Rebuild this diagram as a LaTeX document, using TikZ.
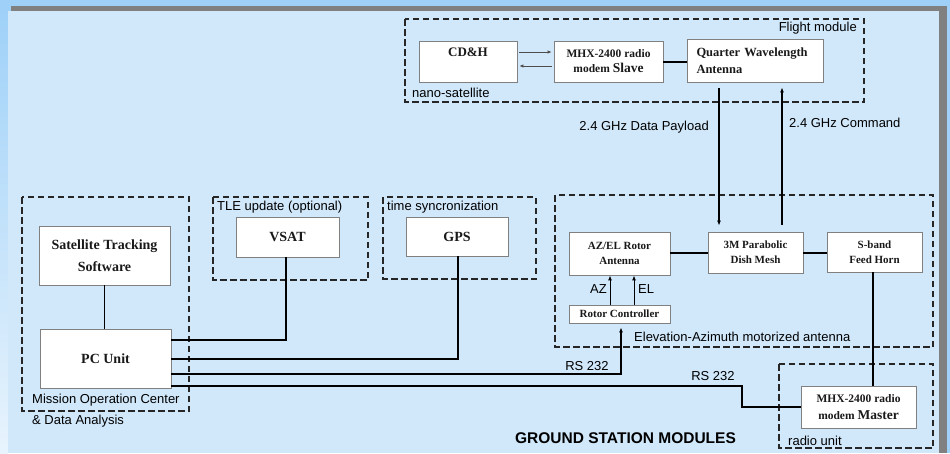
\documentclass[tikz,border=0pt]{standalone}
\usepackage{fontspec}
\setmainfont{Liberation Serif}
\setsansfont{Liberation Sans}
\usetikzlibrary{arrows.meta}
\definecolor{outerblue}{RGB}{159,209,248}
\definecolor{panelblue}{RGB}{209,232,251}
\definecolor{framegray}{RGB}{128,128,128}
\newcommand\fsz[2]{\fontsize{#1}{#2}\selectfont}

\begin{document}
\begin{tikzpicture}[x=1pt,y=-1pt,
    unit/.style={draw=framegray, fill=white, line width=0.8pt, inner sep=0pt,
      align=center, text=black!90, font=\bfseries\fsz{11}{15}},
    group/.style={draw=black!85, line width=1.2pt, dash pattern=on 6.5pt off 3.5pt},
    cable/.style={line width=2pt},
    lbl/.style={font=\sffamily\fsz{13}{15}, inner sep=0pt},
    tip/.style={-{Latex[length=5pt,width=4pt]}}]
    \useasboundingbox (0,0) rectangle (950,453);

    % background panel
    \fill[outerblue] (0,0) rectangle (950,453);
    \shade[top color=outerblue, bottom color=panelblue!50!white] (0,11) rectangle (8,453);
    \fill[panelblue] (8,11) rectangle (939,453);
    \fill[framegray] (11,6) rectangle (947,11);
    \fill[framegray] (939,6) rectangle (947,453);

    % flight module
    \draw[group] (405,19) rectangle (864,102);
    \node[lbl, anchor=east] (flightlbl) at (857,28) {Flight module};
    \node[lbl, anchor=west] (nanolbl) at (412,93) {nano-satellite};
    \node[unit, font=\bfseries\fsz{13}{15}, minimum width=98pt, minimum height=41pt] (cdh) at (468,61.5)
      {\raisebox{5pt}[0pt][0pt]{CD\&H}};
    \node[unit, font=\bfseries\fsz{11.5}{15}, minimum width=109pt, minimum height=41pt] (slave) at (608.5,61.5)
      {MHX-2400 radio\\modem {\fsz{13.5}{15}Slave}};
    \node[unit, font=\bfseries\fsz{12.5}{17}, align=left, text width=118pt,
      minimum width=136pt, minimum height=43pt] (quarter) at (755.5,60.5)
      {Quarter Wavelength\\Antenna};
    \draw[framegray!60!black, line width=1pt, -{Latex[length=4pt,width=3.5pt]}, shorten <=2pt, shorten >=2pt]
      ([yshift=9.5pt]cdh.east) -- ([yshift=9.5pt]slave.west);
    \draw[framegray!60!black, line width=1pt, -{Latex[length=4pt,width=3.5pt]}, shorten <=2pt, shorten >=2pt]
      ([yshift=-4.5pt]slave.west) -- ([yshift=-4.5pt]cdh.east);
    \draw[cable] (slave.east) -- (slave.east -| quarter.west);

    % ground station: mission operation center
    \draw[group] (22,197) rectangle (189,411);
    \node[lbl, anchor=west] (misslbl) at (32,400) {Mission Operation Center};
    \node[lbl, anchor=west] (datalbl) at (32,421) {\& Data Analysis};
    \node[unit, font=\bfseries\fsz{14}{22}, minimum width=131pt, minimum height=59pt] (sat) at (104.5,255.5)
      {Satellite Tracking\\Software};
    \node[unit, font=\bfseries\fsz{14}{17}, minimum width=131pt, minimum height=59pt] (pc) at (105.5,358.5) {PC Unit};
    \draw[line width=1pt] (sat.south) -- (sat.south |- pc.north);

    % TLE and time
    \draw[group] (213,197) rectangle (368,280);
    \node[lbl, anchor=west] (tlelbl) at (217,207) {TLE update (optional)};
    \node[unit, font=\bfseries\fsz{14}{17}, minimum width=103pt, minimum height=40pt] (vsat) at (287.5,237) {VSAT};
    \draw[group] (383,197) rectangle (536,279);
    \node[lbl, anchor=west] (timelbl) at (387,207) {time syncronization};
    \node[unit, font=\bfseries\fsz{14}{17}, minimum width=102pt, minimum height=39pt] (gps) at (457,236.5) {GPS};

    % elevation-azimuth antenna
    \draw[group] (555,195) rectangle (933,347);
    \node[lbl, anchor=west] (elevlbl) at (634,337) {Elevation-Azimuth motorized antenna};
    \node[unit, minimum width=101pt, minimum height=43pt] (rotant) at (619.5,253.5) {AZ/EL Rotor\\Antenna};
    \node[unit, minimum width=95pt, minimum height=41pt] (dish) at (755.5,252.5) {3M Parabolic\\Dish Mesh};
    \node[unit, minimum width=95pt, minimum height=40pt] (sband) at (874.5,252) {S-band\\Feed Horn};
    \node[unit, minimum width=101pt, minimum height=18pt] (rotctl) at (619.5,314) {Rotor Controller};
    \draw[cable] (dish.west -| rotant.east) -- (dish.west);
    \draw[cable] (dish.east) -- (dish.east -| sband.west);
    \draw[line width=1pt, tip] ([xshift=-9.5pt]rotctl.north) -- ([xshift=-9.5pt]rotant.south);
    \draw[line width=1pt, tip] ([xshift=14.5pt]rotctl.north) -- ([xshift=14.5pt]rotant.south);
    \node[lbl, anchor=east] (azlbl) at (607,289) {AZ};
    \node[lbl, anchor=west] (ellbl) at (638,289) {EL};

    % radio links
    \draw[line width=1.4pt, tip] ([xshift=-36.5pt,yshift=-6pt]quarter.south) -- ([xshift=-36.5pt,yshift=6pt]dish.north);
    \draw[line width=1.4pt, tip] ([xshift=26.5pt,yshift=7pt]dish.north) -- ([xshift=26.5pt,yshift=-5pt]quarter.south);
    \node[lbl, anchor=east] (downlbl) at (709,127) {2.4 GHz Data Payload};
    \node[lbl, anchor=west] (uplbl) at (789,123) {2.4 GHz Command};

    % radio unit
    \draw[group] (779,364) rectangle (933,448);
    \node[lbl, anchor=west] (radiolbl) at (788,441) {radio unit};
    \node[unit, font=\bfseries\fsz{11.5}{17}, minimum width=115pt, minimum height=42pt] (master) at (858.5,407)
      {MHX-2400 radio\\modem {\fsz{13.5}{17}Master}};
    \draw[cable] ([xshift=-1.5pt]sband.south) -- ([xshift=-1.5pt]sband.south |- master.north);

    % cables from the PC unit
    \coordinate (mbend) at (742,397);
    \draw[cable] ([yshift=18.5pt]pc.east) -| ([xshift=-1.5pt]vsat.south);
    \draw[cable] (pc.east) -| ([xshift=1pt]gps.south);
    \draw[cable, tip] ([yshift=-15.5pt]pc.east) -| ([xshift=1.5pt,yshift=-4pt]rotctl.south);
    \draw[cable] ([yshift=-27.5pt]pc.east) -| (mbend) |- (master.west);
    \node[lbl] (rsone) at (587,366) {RS 232};
    \node[lbl] (rstwo) at (713,376) {RS 232};

    \node[font=\sffamily\bfseries\fsz{15.5}{18}, inner sep=0pt] (title) at (625.5,438) {GROUND STATION MODULES};
  \end{tikzpicture}
\end{document}
